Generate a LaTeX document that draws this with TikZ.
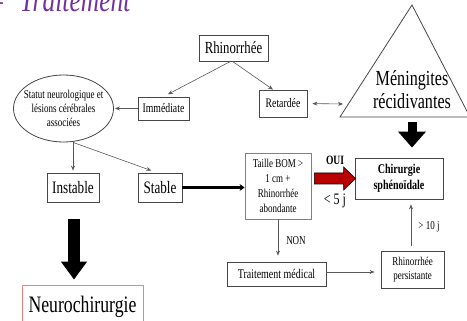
\documentclass[tikz,border=0pt]{standalone}
\usepackage{fontspec}
\setmainfont{Liberation Serif}[FakeStretch=0.75]
\usepackage{tikz}
\usetikzlibrary{arrows,arrows.meta,shapes.geometric,calc}
\definecolor{titre}{RGB}{112,48,160}
\definecolor{rouge}{RGB}{185,0,0}
\definecolor{bord}{RGB}{70,70,70}
\definecolor{neurobord}{RGB}{240,130,130}

\begin{document}
\begin{tikzpicture}[x=1pt,y=-1pt]
\tikzstyle{every node}+=[inner sep=0pt, align=center]
\tikzstyle{boite}=[draw=bord, line width=0.8pt, rectangle]
\tikzstyle{fleche}=[draw=gray!70!black, line width=0.6pt, -{Stealth[length=5pt,width=4pt]}]
\tikzstyle{grosse}=[draw=black, line width=9pt, -{Triangle[width=27pt,length=16pt]}]
\useasboundingbox (0,0) rectangle (467,321);
\clip (0,0) rectangle (467,321);
\fill[white] (0,0) rectangle (467,321);
% titre (coupe en haut)
\node[anchor=base west, text=titre, font=\itshape\fontsize{34}{36}\selectfont] (titre) at (-10,11.5) {--\enspace Traitement};
% partie haute
\node[boite, minimum width=69pt, minimum height=26pt, font=\fontsize{17}{19}\selectfont] (rhino) at (233.5,48) {Rhinorrhée};
\node[boite, minimum width=51pt, minimum height=23pt, font=\fontsize{13}{15}\selectfont] (imm) at (163.5,108.5) {Immédiate};
\node[boite, minimum width=48pt, minimum height=27pt, font=\fontsize{13}{15}\selectfont] (ret) at (283,103.5) {Retardée};
\node[draw=bord, line width=0.8pt, ellipse, minimum width=100pt, minimum height=67pt] (statut) at (63.5,108.5) {};
\node[font=\fontsize{12}{14}\selectfont] (statuttxt) at (statut.center) {Statut neurologique et\\lésions cérébrales\\associées};
% triangle
\coordinate (triA) at (412,5);
\coordinate (triG) at (340,117);
\coordinate (triD) at (470,117);
\coordinate (menG) at (343,104);
\draw[bord, line width=0.8pt] (triG) -- (triA) -- (triD) -- cycle;
\node[font=\fontsize{21.5}{23}\selectfont] (menin) at (412,90) {Méningites\\récidivantes};
% partie basse
\node[boite, minimum width=52pt, minimum height=29pt, font=\fontsize{17.5}{19}\selectfont] (instable) at (73,187.5) {Instable};
\node[boite, minimum width=44pt, minimum height=29pt, font=\fontsize{17.5}{19}\selectfont] (stable) at (160,187.5) {Stable};
\node[boite, draw=gray, minimum width=66pt, minimum height=66pt, font=\fontsize{12}{15}\selectfont] (taille) at (278,186) {Taille BOM >\\1 cm +\\Rhinorrhée\\abondante};
\node[boite, minimum width=88pt, minimum height=41pt, font=\bfseries\fontsize{13.4}{16}\selectfont] (chir) at (399,178.5) {Chirurgie\\sphénoïdale};
\node[boite, minimum width=99pt, minimum height=24pt, font=\fontsize{13.3}{15}\selectfont] (trait) at (276.5,274) {Traitement médical};
\node[boite, minimum width=63pt, minimum height=37pt, font=\fontsize{12}{14}\selectfont] (persist) at (412.5,269.5) {Rhinorrhée\\persistante};
\node[draw=neurobord, line width=0.8pt, minimum width=121pt, minimum height=44pt, font=\fontsize{23.6}{25}\selectfont] (neuro) at (82.5,307) {Neurochirurgie};
% etiquettes
\node[font=\bfseries\fontsize{12.7}{14}\selectfont] (oui) at (335,160) {OUI};
\node[font=\fontsize{16}{18}\selectfont] (cinq) at (335,201) {< 5 j};
\node[font=\fontsize{12}{14}\selectfont] (non) at (296,241) {NON};
\node[font=\fontsize{12}{14}\selectfont] (dix) at (429,227) {> 10 j};
% fleches
\draw[fleche, shorten >=5pt] ($(rhino.south)+(-3,0)$) -- (imm.north);
\draw[fleche] ($(rhino.south)+(-1,0)$) -- ($(ret.north)+(-10,0)$);
\draw[fleche, shorten >=1pt] (imm.west) -- (statut.east);
\draw[fleche, {Stealth[length=5pt,width=4pt]}-{Stealth[length=5pt,width=4pt]}, shorten <=5pt] (ret.east) -- (menG);
\draw[fleche, shorten >=2pt] (statut.south -| instable.north) -- (instable.north);
\draw[fleche, shorten >=6pt] (statut.south -| instable.north) -- ($(stable.north)+(-3,0)$);
\draw[grosse, shorten <=5pt, shorten >=10pt] (triA |- triG) -- (chir.north -| triA);
\draw[black, line width=2.5pt, -{Stealth[length=5pt,width=7pt]}] (stable.east) -- (stable.east -| taille.west);
\draw[grosse, line width=12pt, -{Triangle[width=25pt,length=18pt]}, shorten <=17pt, shorten >=5pt] ($(instable.south)+(1,0)$) -- ($(instable.south |- neuro.north)+(1,0)$);
\draw[black, fill=rouge, line width=0.6pt] ($(taille.east |- chir.west)+(3,5.5)$) -- ($(chir.west)+(-11,5.5)$) -- ($(chir.west)+(-11,11.5)$) -- ($(chir.west)+(1,0)$) -- ($(chir.west)+(-11,-11.5)$) -- ($(chir.west)+(-11,-5.5)$) -- ($(taille.east |- chir.west)+(3,-5.5)$) -- cycle;
\draw[fleche, shorten >=6pt] (taille.south) -- (taille.south |- trait.north);
\draw[fleche, shorten >=6pt] ($(trait.east)+(0,-2)$) -- ($(trait.east -| persist.west)+(0,-2)$);
\draw[fleche, shorten <=5pt, shorten >=5pt] ($(persist.north)+(-1.5,0)$) -- ($(persist.north |- chir.south)+(-1.5,0)$);
\end{tikzpicture}
\end{document}
